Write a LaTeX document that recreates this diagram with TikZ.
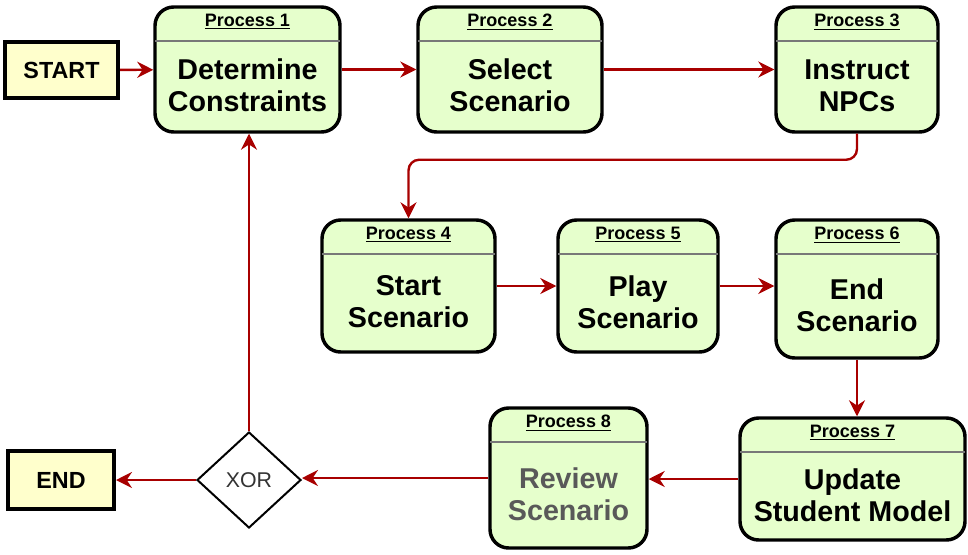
\documentclass[tikz,border=0pt]{standalone}
\usepackage{fontspec}
\setmainfont{Liberation Sans}
\usetikzlibrary{arrows.meta,shapes.geometric}
\definecolor{flowred}{RGB}{168,0,0}
\definecolor{procfill}{RGB}{230,255,204}
\definecolor{termfill}{RGB}{255,255,204}
\definecolor{seplinecol}{RGB}{120,120,120}
\tikzset{
  procbox/.style={draw=black,line width=2.6pt,fill=procfill,rounded corners=14pt,inner sep=0pt},
  prochead/.style={font=\bfseries\fontsize{13.5}{15}\selectfont,inner sep=0pt},
  proctext/.style={font=\bfseries\fontsize{21.5}{24}\selectfont,align=center,inner sep=0pt},
  termbox/.style={draw=black,line width=3pt,fill=termfill,inner sep=0pt,font=\bfseries\fontsize{17.5}{20}\selectfont},
  sepline/.style={draw=seplinecol,line width=1.6pt},
  flow/.style={draw=flowred,line width=1.8pt,-{Stealth[length=12pt,width=12pt,inset=4pt]}}
}
\begin{document}
\begin{tikzpicture}[x=0.75pt,y=-0.75pt]
\useasboundingbox (0,0) rectangle (968,554);
% process boxes
\foreach \n/\x/\y/\w/\h/\c/\txt in {
  1/247.5/69.5/185/125/black/{Determine\\Constraints},
  2/510/69.5/184/125/black/{Select\\Scenario},
  3/857/69.5/162/125/black/{Instruct\\NPCs},
  4/408.5/286/173/132/black/{Start\\Scenario},
  5/638/286/160/132/black/{Play\\Scenario},
  6/857/289/162/138/black/{End\\Scenario},
  7/852.5/479/225/122/black/{Update\\Student Model},
  8/568.5/478/157/140/black!65/{Review\\Scenario}}
{
  \node[procbox,minimum width=\w*0.75pt,minimum height=\h*0.75pt] (p\n) at (\x,\y) {};
  \draw[sepline] ([xshift=1.5pt,yshift=-27pt]p\n.north west) -- ([xshift=-1.5pt,yshift=-27pt]p\n.north east);
  \node[prochead] (h\n) at ([yshift=-12.5pt]p\n.north) {\underline{Process \n}};
  \node[proctext,text=\c] (t\n) at ([yshift=-12pt]p\n.center) {\txt};
}
% start, end and gate
\node[termbox,minimum width=85pt,minimum height=42pt] (start) at (61.5,70) {START};
\node[termbox,minimum width=79.5pt,minimum height=43.5pt] (finish) at (61,480) {END};
\node[draw=black,line width=1.5pt,fill=white,shape=diamond,minimum width=78pt,minimum height=72pt,inner sep=0pt,
  text=black!80,font=\fontsize{16}{18}\selectfont] (xor) at (249,480) {XOR};
% connectors
\draw[flow] (start) -- (p1);
\draw[flow] (p1.east) -- (p1.east -| p2.west);
\draw[flow] (p2.east) -- (p2.east -| p3.west);
\draw[flow,rounded corners=8pt] (p3.south) -- ++(0,26) -| (p4.north);
\draw[flow] (p4.east) -- (p4.east -| p5.west);
\draw[flow] (p5.east) -- (p5.east -| p6.west);
\draw[flow] (p6.south) -- (p6.south |- p7.north);
\draw[flow] (p7.west) -- (p7.west -| p8.east);
\draw[flow] (p8.west) -- (p8.west -| xor.east);
\draw[flow] (xor.west) -- (xor.west -| finish.east);
\draw[flow] (xor.north) -- (xor.north |- p1.south);
\end{tikzpicture}
\end{document}
